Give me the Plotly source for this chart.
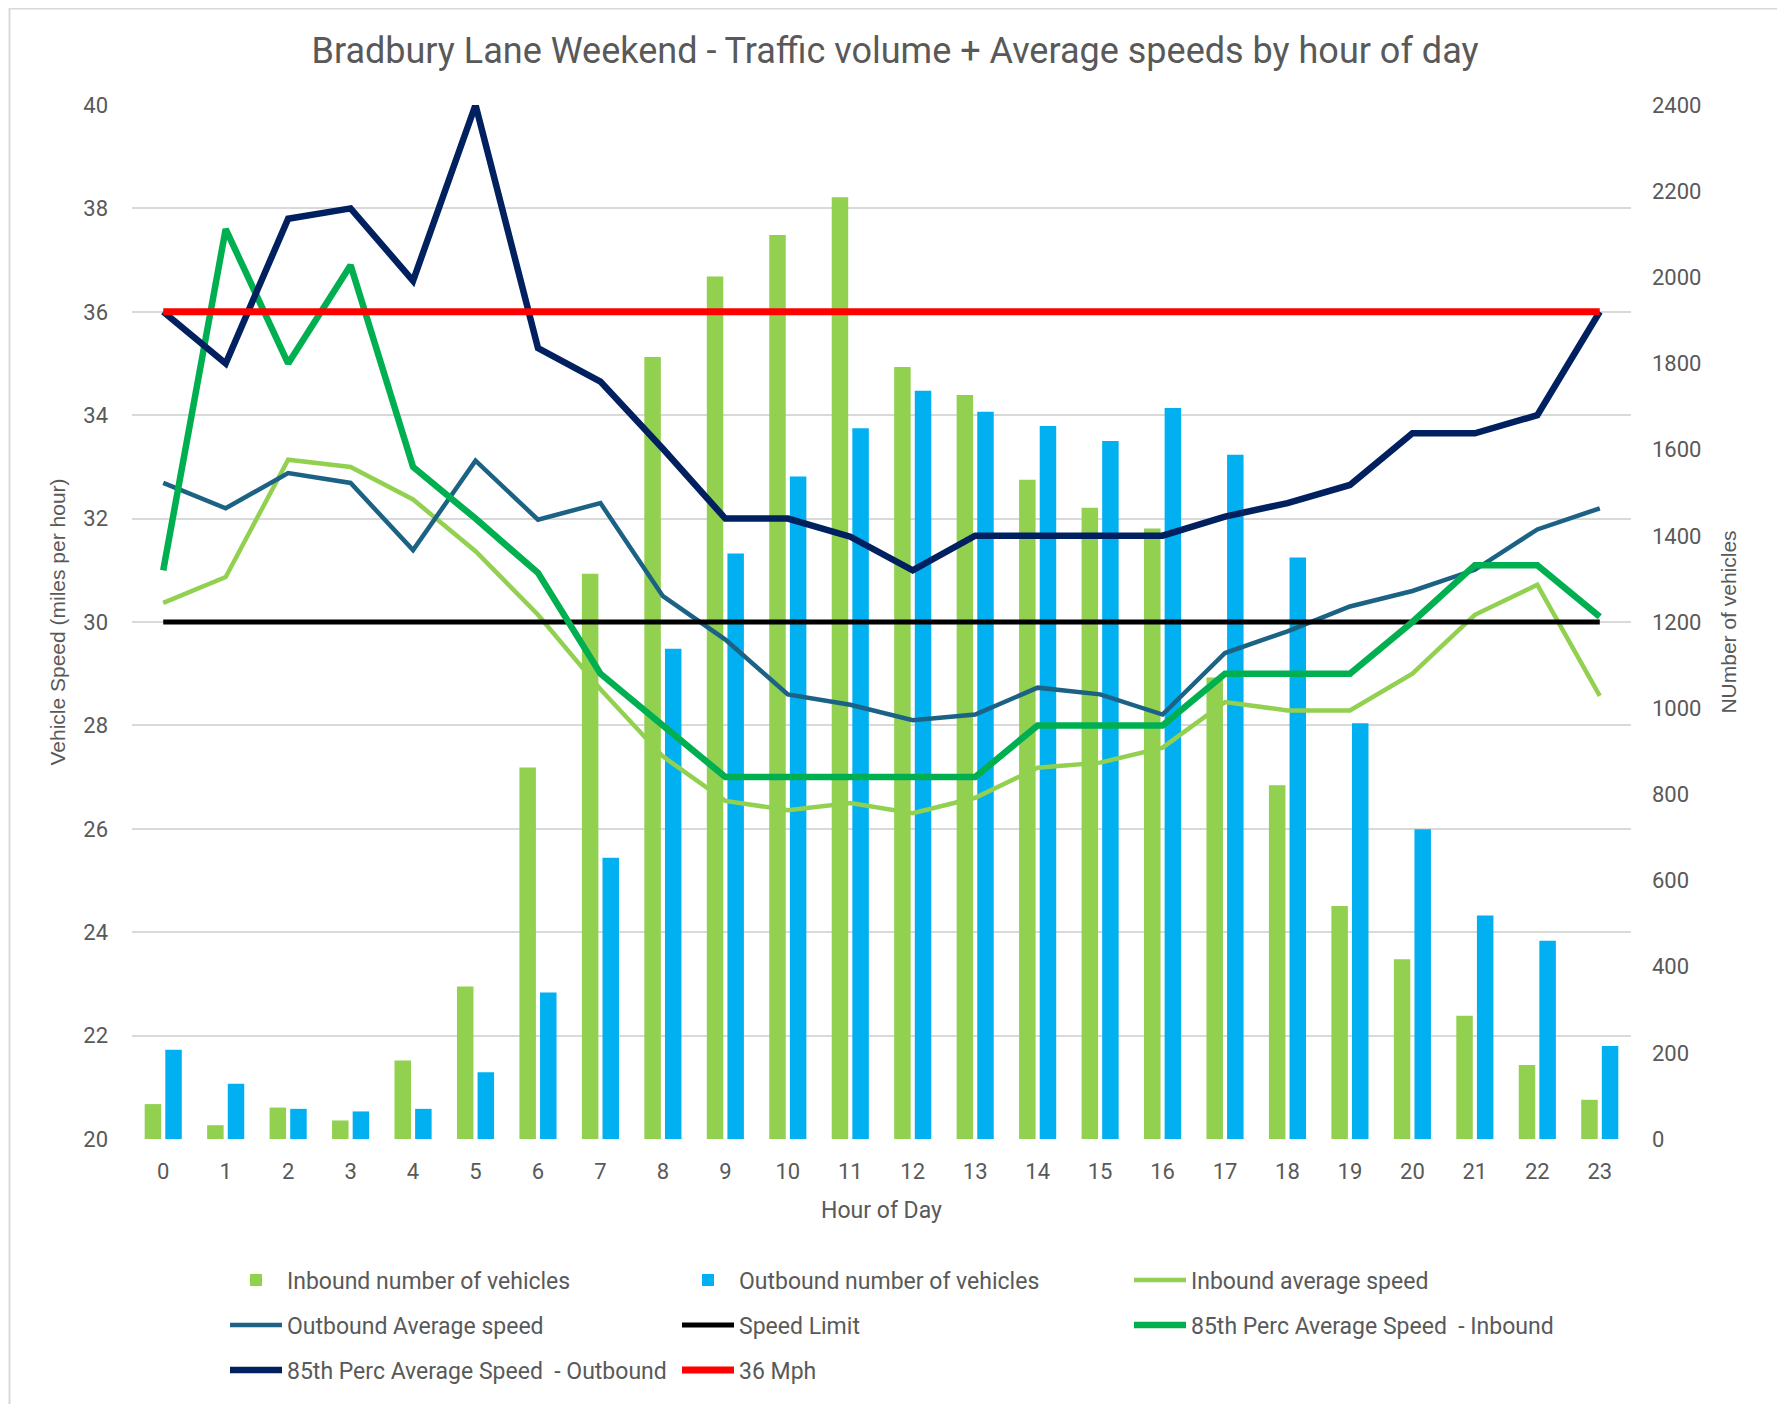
import plotly.graph_objects as go

hours = list(range(24))
hour_labels = [str(h) for h in hours]

inbound_vehicles = [81, 32, 73, 43, 182, 354, 862, 1312, 1815, 2002, 2098, 2186,
                    1792, 1727, 1530, 1465, 1417, 1071, 821, 541, 417, 286, 172, 91]
outbound_vehicles = [207, 128, 70, 64, 70, 155, 340, 653, 1138, 1359, 1538, 1650,
                     1737, 1688, 1655, 1620, 1697, 1588, 1350, 965, 719, 519, 460, 216]

inbound_avg_speed = [30.37, 30.87, 33.14, 33.0, 32.37, 31.37, 30.14, 28.7, 27.4, 26.54, 26.36, 26.5,
                     26.3, 26.6, 27.18, 27.28, 27.57, 28.45, 28.29, 28.29, 29.0, 30.14, 30.72, 28.57]
outbound_avg_speed = [32.69, 32.2, 32.88, 32.69, 31.39, 33.12, 31.98, 32.3, 30.5, 29.66, 28.6, 28.4,
                      28.1, 28.21, 28.73, 28.6, 28.21, 29.4, 29.82, 30.3, 30.6, 31.01, 31.79, 32.2]
speed_limit = [30] * 24
perc85_inbound = [31, 37.6, 35, 36.9, 33, 32, 30.95, 29, 28, 27, 27, 27,
                  27, 27, 28, 28, 28, 29, 29, 29, 30, 31.1, 31.1, 30.1]
perc85_outbound = [36, 35, 37.8, 38, 36.6, 40, 35.3, 34.65, 33.35, 32, 32, 31.65,
                   31, 31.67, 31.67, 31.67, 31.67, 32.04, 32.3, 32.65, 33.65, 33.65, 34, 36]
mph36 = [36] * 24

FONT = "Roboto, Liberation Sans, Arial, sans-serif"
WIDE = "Liberation Sans, Arial, sans-serif"
TXT = "#595959"

# plot-area geometry (figure pixels)
L, T, W, H = 124, 97, 1499, 1034

fig = go.Figure()
fig.add_trace(go.Bar(x=hours, y=inbound_vehicles, name="Inbound number of vehicles",
                     marker=dict(color="#92D050", line=dict(width=0)), yaxis="y", legend="legend"))
fig.add_trace(go.Bar(x=hours, y=outbound_vehicles, name="Outbound number of vehicles",
                     marker=dict(color="#00B0F0", line=dict(width=0)), yaxis="y", legend="legend"))

def add_line(vals, name, color, width, leg):
    fig.add_trace(go.Scatter(x=hours, y=vals, name=name, mode="lines",
                             line=dict(color=color, width=width), yaxis="y2", legend=leg))

add_line(inbound_avg_speed, "Inbound average speed", "#92D050", 4.5, "legend")
add_line(outbound_avg_speed, "Outbound Average speed", "#1B6284", 4.5, "legend2")
add_line(speed_limit, "Speed Limit", "#000000", 5, "legend2")
add_line(perc85_inbound, "85th Perc Average Speed  - Inbound", "#00B050", 6.5, "legend2")
add_line(perc85_outbound, "85th Perc Average Speed  - Outbound", "#002060", 6.5, "legend3")
add_line(mph36, "36 Mph", "#FF0000", 7, "legend3")

def legend_row(ypix):
    return dict(orientation="h", x=(225 - 8 - L) / W, xanchor="left",
                y=(T + H - (ypix - 8)) / H, yanchor="middle",
                entrywidth=385, entrywidthmode="pixels", itemwidth=52,
                bgcolor="rgba(0,0,0,0)",
                font=dict(family=FONT, size=23, color=TXT), traceorder="normal")

fig.update_layout(
    width=1785, height=1404,
    margin=dict(l=L, r=1785 - L - W, t=T, b=1404 - T - H),
    paper_bgcolor="white", plot_bgcolor="white",
    title=dict(text="Bradbury Lane Weekend - Traffic volume + Average speeds by hour of day",
               x=(895 - 8) / 1785, xanchor="center", y=1 - 42 / 1404, yanchor="middle",
               font=dict(family=FONT, size=36, color=TXT)),
    barmode="group", bargap=0.34, bargroupgap=0.2,
    showlegend=True,
    legend=legend_row(1280),
    legend2=legend_row(1325),
    legend3=legend_row(1370),
    xaxis=dict(range=[-0.5, 23.5], tickmode="array", tickvals=hours, ticktext=hour_labels,
               showgrid=False, zeroline=False, showline=False, ticks="",
               ticklabelstandoff=17,
               tickfont=dict(family=FONT, size=22, color=TXT),
               title=dict(text="Hour of Day", font=dict(family=FONT, size=23, color=TXT), standoff=18)),
    yaxis=dict(range=[0, 2400], dtick=200, side="right", showgrid=False, zeroline=False,
               showline=False, ticks="", ticklabelstandoff=20,
               tickfont=dict(family=FONT, size=22, color=TXT),
               title=dict(text="NUmber of vehicles", font=dict(family=WIDE, size=21, color=TXT), standoff=20)),
    yaxis2=dict(range=[20, 40], dtick=2, side="left", overlaying="y", showgrid=True,
                gridcolor="#D9D9D9", gridwidth=1.5, zeroline=False, showline=False, ticks="",
                ticklabelstandoff=23,
                tickfont=dict(family=FONT, size=22, color=TXT),
                title=dict(text="Vehicle Speed (miles per hour)", font=dict(family=WIDE, size=21, color=TXT), standoff=11)),
)

fig.add_shape(type="rect", xref="paper", yref="paper",
              x0=(1.5 - L) / W, x1=(1771 - L) / W,
              y0=(T + H - 1450) / H, y1=(T + H - 0.5) / H,
              line=dict(color="#D9D9D9", width=2), fillcolor="rgba(0,0,0,0)", layer="below")

fig.write_html("out.html")
